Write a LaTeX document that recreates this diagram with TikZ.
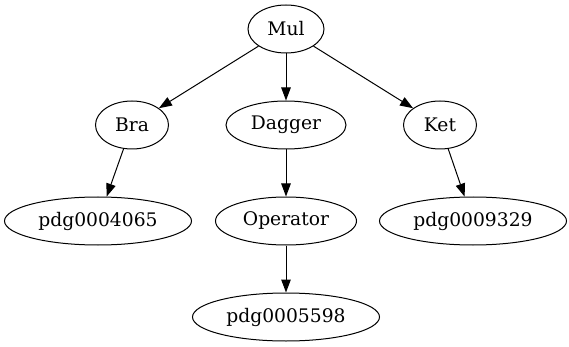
\documentclass[tikz,border=0pt]{standalone}
\usepackage{fontspec}
\setmainfont{DejaVu Serif}
\usetikzlibrary{arrows.meta,shapes.geometric}

\begin{document}
\begin{tikzpicture}[x=1pt,y=1pt,>={Triangle[length=13pt,width=9.5pt]},
  tn/.style={draw,ellipse,inner sep=0pt,minimum height=48pt,line width=1pt,font=\fontsize{18.7}{22}\selectfont}]
  \useasboundingbox (0,0) rectangle (569,-347);
  % ranks
  \node[tn,minimum width=76pt] (mul) at (286,-29) {Mul};
  \node[tn,minimum width=73pt] (bra) at (132,-125) {Bra};
  \node[tn,minimum width=120pt] (dag) at (286,-125) {Dagger};
  \node[tn,minimum width=73pt] (ket) at (440,-125) {Ket};
  \node[tn,minimum width=187pt] (p4065) at (98,-221) {pdg0004065};
  \node[tn,minimum width=141pt] (op) at (286,-221) {Operator};
  \node[tn,minimum width=187pt] (p9329) at (473,-221) {pdg0009329};
  \node[tn,minimum width=187pt] (p5598) at (286,-317) {pdg0005598};
  % edges
  \foreach \a/\b in {mul/bra,mul/dag,mul/ket,bra/p4065,dag/op,ket/p9329,op/p5598}
    \draw[->,line width=1pt] (\a) -- (\b);
\end{tikzpicture}
\end{document}
